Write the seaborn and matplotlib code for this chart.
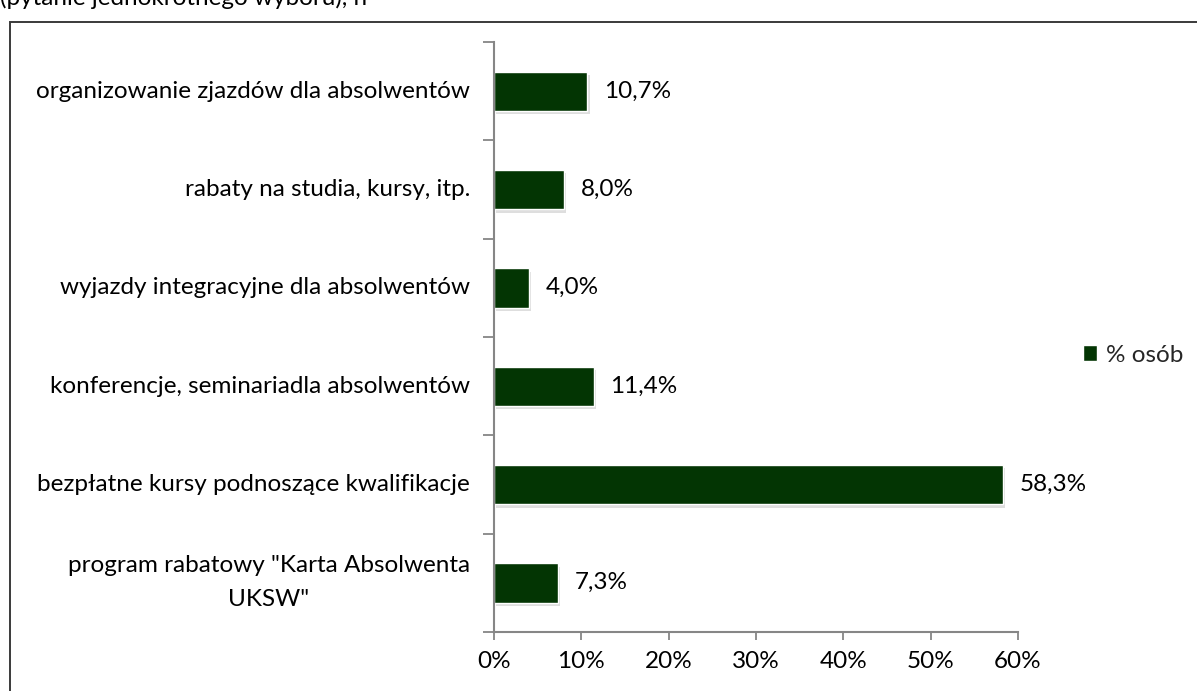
import matplotlib
matplotlib.use("Agg")
import matplotlib.pyplot as plt
import matplotlib.patheffects as pe
import matplotlib.transforms as mtransforms
from matplotlib.patches import Rectangle
import seaborn as sns
import pandas as pd

categories = [
    "organizowanie zjazdów dla absolwentów",
    "rabaty na studia, kursy, itp.",
    "wyjazdy integracyjne dla absolwentów",
    "konferencje, seminariadla absolwentów",
    "bezpłatne kursy podnoszące kwalifikacje",
    "program rabatowy \"Karta Absolwenta\nUKSW\"",
]
values = [10.7, 8.0, 4.0, 11.4, 58.3, 7.3]
series_name = "% osób"
x_ticks = [0, 10, 20, 30, 40, 50, 60]
note = "(pytanie jednokrotnego wyboru), n="

sns.set_theme(style="white")
plt.rcParams["font.family"] = ["Lato", "DejaVu Sans"]

BAR = "#033503"
AXIS = "#868686"
FS = 17.5

df = pd.DataFrame({"kategoria": categories, "wartosc": values, "seria": series_name})

fig = plt.figure(figsize=(11.97, 6.91), dpi=100)
fig.patch.set_facecolor("white")

# outer chart frame
fig.patches.append(Rectangle((10 / 1197, -0.05), 1.2, 1 - 22 / 691 + 0.05,
                             transform=fig.transFigure, fill=False,
                             edgecolor="#3a3a3a", linewidth=1.4, zorder=0))
fig.text(0.0, 1 - 5 / 691, note, ha="left", va="baseline", fontsize=FS, color="black")

ax = fig.add_axes([494 / 1197, 1 - 632 / 691, (1018 - 494) / 1197, (632 - 42) / 691])
ax.set_facecolor("none")

sns.barplot(data=df, x="wartosc", y="kategoria", hue="seria", palette=[BAR],
            orient="h", width=0.4, ax=ax, legend=True, saturation=1)

for patch in ax.patches:
    patch.set_path_effects([
        pe.SimplePatchShadow(offset=(1.5, -2.5), shadow_rgbFace="#8a8a8a", alpha=0.28),
        pe.Normal(),
    ])

for cont in ax.containers:
    ax.bar_label(cont, labels=[f"{v:.1f}%".replace(".", ",") for v in values],
                 padding=12, fontsize=FS, color="black")

ax.set_xlim(0, 60)
ax.set_ylim(5.5, -0.5)
ax.set_xticks(x_ticks)
ax.set_xticklabels([f"{t}%" for t in x_ticks])
# category boundaries carry the tick marks; names are drawn beside the axis
ax.set_yticks([i - 0.5 for i in range(len(categories) + 1)])
ax.set_yticklabels([])
ax.tick_params(axis="y", length=8, width=1.3, color=AXIS, direction="out", left=True)
ax.tick_params(axis="x", length=6, width=1.3, color=AXIS, direction="out", bottom=True,
               pad=8, labelsize=FS, labelcolor="black")
name_tr = mtransforms.offset_copy(ax.get_yaxis_transform(), fig=fig, x=-24, y=0, units="dots")
for i, name in enumerate(categories):
    ax.text(0, i, name, transform=name_tr, ha="right", va="center",
            multialignment="center", linespacing=1.75, fontsize=FS, color="black")
ax.set_xlabel("")
ax.set_ylabel("")

for side in ["top", "right"]:
    ax.spines[side].set_visible(False)
for side in ["left", "bottom"]:
    ax.spines[side].set_color(AXIS)
    ax.spines[side].set_linewidth(1.5)

leg = ax.legend(loc="center left", bbox_to_anchor=(1061 / 1197, 1 - 355 / 691),
                bbox_transform=fig.transFigure, frameon=False, fontsize=FS,
                handlelength=0.6, handleheight=0.6, handletextpad=0.35)
for h in leg.legend_handles:
    h.set_path_effects([])

fig.savefig("out.png", dpi=100, facecolor="white")
